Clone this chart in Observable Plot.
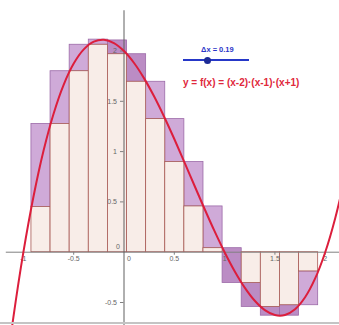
<!DOCTYPE html>
<html>
<head>
<meta charset="utf-8">
<script src="https://cdn.jsdelivr.net/npm/d3@7"></script>
<script src="https://cdn.jsdelivr.net/npm/@observablehq/plot@0.6"></script>
<style>
  html, body { margin: 0; padding: 0; background: #fff; }
  #wrap { position: relative; width: 339px; height: 325px; overflow: hidden; font-family: "Liberation Sans", Arial, sans-serif; }
  #wrap svg { display: block; }
  .dxlabel { position: absolute; left: 201px; top: 45px; font-size: 7.5px; font-weight: bold; color: #2b35c8; white-space: nowrap; }
  .slider { position: absolute; left: 183px; top: 59px; width: 66px; height: 2px; background: #2638c8; }
  .knob { position: absolute; left: 204px; top: 56.5px; width: 7px; height: 7px; border-radius: 50%; background: #1c2a96; }
  .formula { position: absolute; left: 183px; top: 77px; font-size: 10px; font-weight: bold; color: #e0283c; white-space: nowrap; }
  .frameline { position: absolute; left: 0; top: 322px; width: 339px; height: 1.5px; background: #c4c4c4; }
</style>
</head>
<body>
<div id="wrap"></div>
<script>
// Riemann-sum rectangles (Δx = 0.19)
const barEdges = [-0.92, -0.73, -0.54, -0.35, -0.16, 0.03, 0.22, 0.41, 0.60, 0.79, 0.98, 1.17, 1.36, 1.55, 1.74, 1.93];
const upperSum = [1.275, 1.799, 2.062, 2.113, 2.105, 1.968, 1.694, 1.323, 0.896, 0.455, 0.040, -0.306, -0.544, -0.527, -0.191];
const lowerSum = [0.449, 1.275, 1.799, 2.062, 1.968, 1.694, 1.323, 0.896, 0.455, 0.040, -0.306, -0.544, -0.631, -0.631, -0.527];
const darkShade = [false, false, false, false, true, true, false, false, false, false, true, true, true, true, false];

// curve y = f(x)
const curveX = [-1.2, -1.1, -1.0, -0.9, -0.8, -0.7, -0.6, -0.5, -0.4, -0.3, -0.2, -0.1, 0.0, 0.1, 0.2, 0.3, 0.4, 0.5, 0.6, 0.7, 0.8, 0.9, 1.0, 1.1, 1.2, 1.3, 1.4, 1.5, 1.6, 1.7, 1.8, 1.9, 2.0, 2.1, 2.2];
const curveY = [-1.408, -0.651, 0, 0.551, 1.008, 1.377, 1.664, 1.875, 2.016, 2.093, 2.112, 2.079, 2.0, 1.881, 1.728, 1.547, 1.344, 1.125, 0.896, 0.663, 0.432, 0.209, 0, -0.189, -0.352, -0.483, -0.576, -0.625, -0.624, -0.567, -0.448, -0.261, 0, 0.341, 0.768];

// axis ticks
const xTicks = [-1, -0.5, 0.5, 1, 1.5, 2];
const xTickLabels = ["-1", "-0.5", "0.5", "1", "1.5", "2"];
const yTicks = [-0.5, 0.5, 1, 1.5, 2];
const yTickLabels = ["-0.5", "0.5", "1", "1.5", "2"];

const bars = barEdges.slice(0, -1).map((x1, i) => ({
  x1, x2: barEdges[i + 1], up: upperSum[i], lo: lowerSum[i], dark: darkShade[i]
}));
const inner = b => (b.lo >= 0 ? b.lo : b.up <= 0 ? b.up : 0);
const curve = curveX.map((x, i) => ({x, y: curveY[i]}));

const labelFont = {fontSize: 7, fill: "#666", fontFamily: "Liberation Sans, Arial, sans-serif"};

const chart = Plot.plot({
  width: 339,
  height: 325,
  margin: 0,
  x: {domain: [-1.2276, 2.142], axis: null},
  y: {domain: [-0.7286, 2.502], axis: null},
  marks: [
    Plot.rect(bars, {x1: "x1", x2: "x2", y1: "lo", y2: "up",
      fill: d => d.dark ? "#bb8cc4" : "#cfaad8", stroke: "#9c6aa8", strokeWidth: 0.8}),
    Plot.rect(bars, {x1: "x1", x2: "x2", y1: () => 0, y2: inner,
      fill: "#f8ede8", stroke: "#a85a55", strokeWidth: 0.8}),
    Plot.ruleY([0], {x1: -1.17, x2: 2.142, stroke: "#808080", strokeWidth: 1}),
    Plot.ruleX([0], {y1: -0.7286, y2: 2.4, stroke: "#606060", strokeWidth: 1}),
    Plot.ruleX(xTicks, {y1: 0, y2: -0.03, stroke: "#808080", strokeWidth: 1}),
    Plot.ruleY(yTicks, {x1: 0, x2: -0.035, stroke: "#808080", strokeWidth: 1}),
    Plot.text(xTicks, {x: d => d, y: 0, dy: 7, text: (d, i) => xTickLabels[i], ...labelFont}),
    Plot.text(yTicks, {x: 0, y: d => d, dx: -7, textAnchor: "end", text: (d, i) => yTickLabels[i], ...labelFont}),
    Plot.text([0], {x: 0, y: 0, dx: 5, dy: 7, text: () => "0", ...labelFont}),
    Plot.text([0], {x: 0, y: 0, dx: -6, dy: -5, text: () => "0", ...labelFont}),
    Plot.line(curve, {x: "x", y: "y", curve: "catmull-rom", stroke: "#dc1e3c", strokeWidth: 2, clip: true})
  ]
});

const wrap = document.getElementById("wrap");
wrap.appendChild(chart);
wrap.insertAdjacentHTML("beforeend",
  '<div class="dxlabel">Δx = 0.19</div>' +
  '<div class="slider"></div><div class="knob"></div>' +
  '<div class="formula">y = f(x) = (x-2)·(x-1)·(x+1)</div>' +
  '<div class="frameline"></div>');
</script>
</body>
</html>
